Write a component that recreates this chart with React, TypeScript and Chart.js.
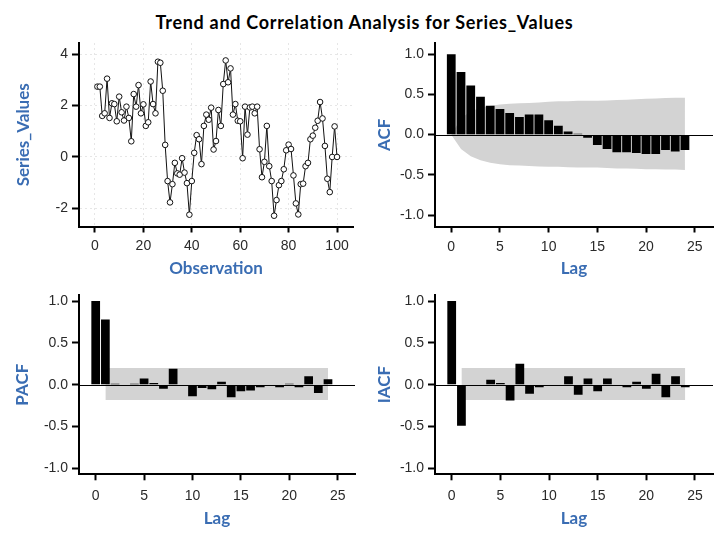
import React, { useEffect, useRef } from 'react';
import { Chart, registerables } from 'chart.js';

Chart.register(...registerables);

const chartTitle = 'Trend and Correlation Analysis for Series_Values';

// Observed series (observation 1..100)
const seriesValues = [
  2.73, 2.73, 1.59, 1.69, 3.04, 1.51, 2.08, 2.05, 1.38, 2.34,
  1.73, 1.41, 1.95, 1.51, 0.6, 2.44, 1.95, 2.79, 1.69, 2.04,
  1.2, 1.34, 2.93, 2.05, 1.69, 3.7, 3.66, 2.57, 0.46, -0.95,
  -1.78, -1.07, -0.24, -0.65, -0.7, -0.06, -0.62, -1.03, -2.26, -0.95,
  0.15, 0.84, 0.68, -0.29, 1.2, 1.64, 1.44, 1.91, 0.28, 0.61,
  1.82, 1.2, 2.83, 3.75, 2.9, 3.44, 1.64, 2.05, 1.4, 1.38,
  -0.06, 1.95, 0.86, 1.92, 1.95, 1.69, 1.95, 0.29, -0.8, -0.2,
  1.2, -0.37, -0.95, -2.3, -1.69, -1.11, -0.95, -0.49, 0.25, 0.47,
  0.3, -0.73, -1.82, -2.25, -1.07, -1.05, -0.37, -0.24, 0.68, 0.82,
  1.13, 1.4, 2.13, 1.49, 0.42, -0.86, -1.38, -0.01, 1.18, -0.01,
];
const observationTicks = [0, 20, 40, 60, 80, 100];
const seriesTicks = [-2, 0, 2, 4];

const lags = [0, 1, 2, 3, 4, 5, 6, 7, 8, 9, 10, 11, 12, 13, 14, 15, 16, 17, 18, 19, 20, 21, 22, 23, 24];
const lagTicks = [0, 5, 10, 15, 20, 25];
const corrTicks = [-1, -0.5, 0, 0.5, 1];

const acfValues = [
  1.0, 0.78, 0.61, 0.47, 0.36, 0.32, 0.27, 0.22, 0.25, 0.25,
  0.18, 0.11, 0.04, 0.01, -0.04, -0.13, -0.18, -0.22, -0.22, -0.23,
  -0.24, -0.24, -0.19, -0.21, -0.19,
];
const acfBandUpper = [
  0, 0.2, 0.29, 0.33, 0.36, 0.375, 0.385, 0.39, 0.395, 0.4,
  0.41, 0.415, 0.415, 0.42, 0.42, 0.42, 0.425, 0.43, 0.435, 0.44,
  0.445, 0.45, 0.455, 0.46, 0.46,
];
const acfBandLower = [
  0, -0.18, -0.27, -0.32, -0.35, -0.37, -0.38, -0.385, -0.39, -0.395,
  -0.4, -0.4, -0.405, -0.41, -0.41, -0.41, -0.415, -0.42, -0.42, -0.425,
  -0.43, -0.43, -0.435, -0.435, -0.44,
];

const pacfValues = [
  1.0, 0.78, 0.01, -0.01, 0.01, 0.075, 0.02, -0.05, 0.19, -0.01,
  -0.14, -0.04, -0.055, 0.035, -0.15, -0.08, -0.07, -0.03, -0.015, -0.03,
  0.01, -0.03, 0.1, -0.1, 0.065,
];
const pacfBandLags = [1, 24];
const pacfBandUpper = [0.2, 0.2];
const pacfBandLower = [-0.185, -0.185];

const iacfValues = [
  1.0, -0.49, 0.0, 0.0, 0.06, 0.02, -0.19, 0.25, -0.11, -0.03,
  0.0, 0.0, 0.1, -0.12, 0.075, -0.08, 0.075, 0.0, -0.03, 0.035,
  -0.05, 0.13, -0.15, 0.1, -0.03,
];
const iacfBandLags = [1, 24];
const iacfBandUpper = [0.2, 0.2];
const iacfBandLower = [-0.185, -0.185];

const BLUE = '#3a6db3';
const TICK_COLOR = '#2a2a2a';
const BAND_COLOR = '#d3d3d3';
const tickFont = { family: "'Liberation Sans', Arial, sans-serif", size: 14 };
const axisTitleFont = { family: "Lato, 'Open Sans', sans-serif", size: 17, weight: 'bold' as const };

const zeroLinePlugin = {
  id: 'zeroLine',
  afterDatasetsDraw(chart: any) {
    const { ctx, chartArea, scales } = chart;
    const y = Math.round(scales.y.getPixelForValue(0)) + 0.5;
    ctx.save();
    ctx.strokeStyle = '#000';
    ctx.lineWidth = 1;
    ctx.beginPath();
    ctx.moveTo(chartArea.left, y);
    ctx.lineTo(chartArea.right, y);
    ctx.stroke();
    ctx.restore();
  },
};

type Geo = {
  left: number; top: number; w: number; h: number;
  padTop: number; padRight: number; yWidth: number; xHeight: number;
  xTitlePad: number; yTitlePad: number;
  xMin: number; xMax: number; yMin: number; yMax: number;
};

function makeScales(g: Geo, xTitle: string, yTitle: string, xTicks: number[], yTicks: number[],
  yFmt: (v: number) => string, gridOn: boolean, xTickPad: number) {
  const gridColor = gridOn ? '#e6e6e6' : 'rgba(0,0,0,0)';
  return {
    x: {
      type: 'linear' as const,
      min: g.xMin,
      max: g.xMax,
      offset: false,
      afterBuildTicks: (s: any) => { s.ticks = xTicks.map((v) => ({ value: v })); },
      afterFit: (s: any) => { s.height = g.xHeight; },
      grid: {
        display: true, drawOnChartArea: gridOn, drawTicks: true, offset: false,
        color: gridColor, lineWidth: 1, tickLength: 6, tickWidth: 2, tickColor: '#000',
      },
      border: { display: true, color: '#000', width: 2, dash: gridOn ? [2, 3] : [] },
      ticks: {
        color: TICK_COLOR, font: tickFont, padding: xTickPad, maxRotation: 0, autoSkip: false,
        callback: (v: any) => String(v),
      },
      title: {
        display: true, text: xTitle, color: BLUE, font: axisTitleFont,
        padding: { top: 0, bottom: g.xTitlePad },
      },
    },
    y: {
      type: 'linear' as const,
      min: g.yMin,
      max: g.yMax,
      afterBuildTicks: (s: any) => { s.ticks = yTicks.map((v) => ({ value: v })); },
      afterFit: (s: any) => { s.width = g.yWidth; },
      grid: {
        display: true, drawOnChartArea: gridOn, drawTicks: true,
        color: gridColor, lineWidth: 1, tickLength: 7, tickWidth: 2, tickColor: '#000',
      },
      border: { display: true, color: '#000', width: 2, dash: gridOn ? [2, 3] : [] },
      ticks: {
        color: TICK_COLOR, font: tickFont, padding: 4,
        callback: (v: any) => yFmt(Number(v)),
      },
      title: {
        display: true, text: yTitle, color: BLUE, font: axisTitleFont,
        padding: { top: g.yTitlePad, bottom: 0 },
      },
    },
  };
}

function baseOptions(g: Geo) {
  return {
    responsive: false,
    animation: false as const,
    events: [] as any[],
    layout: { padding: { top: g.padTop, right: g.padRight, bottom: 0, left: 0 } },
    plugins: { legend: { display: false }, tooltip: { enabled: false }, title: { display: false } },
  };
}

const geoTL: Geo = {
  left: 0, top: 30, w: 362, h: 260, padTop: 13, padRight: 9, yWidth: 79, xHeight: 63.5,
  xTitlePad: 11, yTitlePad: 13, xMin: -6.6, xMax: 106.6, yMin: -2.72, yMax: 4.43,
};
const geoTR: Geo = {
  left: 362, top: 30, w: 363, h: 260, padTop: 13, padRight: 12, yWidth: 73, xHeight: 63.5,
  xTitlePad: 11, yTitlePad: 12, xMin: -1.67, xMax: 26.88, yMin: -1.143, yMax: 1.14,
};
const geoBL: Geo = {
  left: 0, top: 280, w: 362, h: 263, padTop: 15, padRight: 7, yWidth: 79, xHeight: 68.7,
  xTitlePad: 14.5, yTitlePad: 12, xMin: -1.725, xMax: 26.79, yMin: -1.072, yMax: 1.072,
};
const geoBR: Geo = {
  left: 362, top: 280, w: 363, h: 263, padTop: 15, padRight: 12, yWidth: 73, xHeight: 68.7,
  xTitlePad: 14.5, yTitlePad: 12, xMin: -1.716, xMax: 26.85, yMin: -1.072, yMax: 1.072,
};

function seriesConfig(g: Geo): any {
  return {
    type: 'line',
    data: {
      datasets: [{
        data: seriesValues.map((v, i) => ({ x: i + 1, y: v })),
        borderColor: '#111',
        borderWidth: 1,
        tension: 0,
        pointRadius: 2.8,
        pointBorderWidth: 1,
        pointBorderColor: '#111',
        pointBackgroundColor: '#fff',
        fill: false,
      }],
    },
    options: {
      ...baseOptions(g),
      scales: makeScales(g, 'Observation', 'Series_Values', observationTicks, seriesTicks, (v) => String(v), true, 5),
    },
  };
}

function corrConfig(g: Geo, yTitle: string, values: number[], bandLags: number[],
  upper: number[], lower: number[], xTickPad: number): any {
  return {
    type: 'bar',
    data: {
      datasets: [
        {
          type: 'bar',
          data: lags.map((l, i) => ({ x: l, y: values[i] })),
          backgroundColor: '#000',
          borderWidth: 0,
          barPercentage: 0.9,
          categoryPercentage: 1,
          order: 0,
        },
        {
          type: 'line',
          data: bandLags.map((l, i) => ({ x: l, y: upper[i] })),
          borderColor: 'rgba(0,0,0,0)',
          borderWidth: 0,
          pointRadius: 0,
          tension: 0,
          fill: '+1',
          backgroundColor: BAND_COLOR,
          order: 1,
        },
        {
          type: 'line',
          data: bandLags.map((l, i) => ({ x: l, y: lower[i] })),
          borderColor: 'rgba(0,0,0,0)',
          borderWidth: 0,
          pointRadius: 0,
          tension: 0,
          fill: false,
          order: 2,
        },
      ],
    },
    options: {
      ...baseOptions(g),
      scales: makeScales(g, 'Lag', yTitle, lagTicks, corrTicks, (v) => v.toFixed(1), false, xTickPad),
    },
    plugins: [zeroLinePlugin],
  };
}

function Panel({ geo, config }: { geo: Geo; config: () => any }) {
  const ref = useRef<HTMLCanvasElement | null>(null);
  useEffect(() => {
    if (!ref.current) return;
    const chart = new Chart(ref.current, config());
    return () => chart.destroy();
  }, []);
  return (
    <canvas
      ref={ref}
      width={geo.w}
      height={geo.h}
      style={{ position: 'absolute', left: geo.left, top: geo.top, width: geo.w, height: geo.h }}
    />
  );
}

export default function App() {
  return (
    <div style={{ position: 'fixed', left: 0, top: 0, width: 725, height: 543, background: '#fff', overflow: 'hidden' }}>
      <div
        style={{
          position: 'absolute', left: 0, top: 11, width: 729, textAlign: 'center',
          fontFamily: "Lato, 'Open Sans', sans-serif", fontWeight: 'bold', fontSize: 18,
          letterSpacing: '0.7px', lineHeight: '22px', color: '#000', whiteSpace: 'nowrap',
        }}
      >
        {chartTitle}
      </div>
      <Panel geo={geoTL} config={() => seriesConfig(geoTL)} />
      <Panel geo={geoTR} config={() => corrConfig(geoTR, 'ACF', acfValues, lags, acfBandUpper, acfBandLower, 6)} />
      <Panel geo={geoBL} config={() => corrConfig(geoBL, 'PACF', pacfValues, pacfBandLags, pacfBandUpper, pacfBandLower, 7)} />
      <Panel geo={geoBR} config={() => corrConfig(geoBR, 'IACF', iacfValues, iacfBandLags, iacfBandUpper, iacfBandLower, 7)} />
    </div>
  );
}
